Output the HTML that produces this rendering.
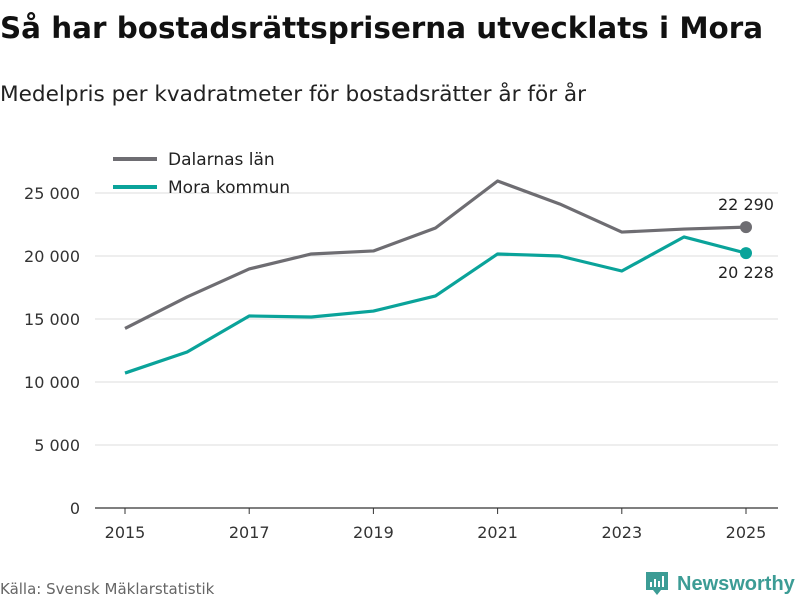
<!DOCTYPE html>
<html><head><meta charset="utf-8"><style>
body{margin:0;width:800px;height:600px;background:#fff;font-family:"DejaVu Sans","Liberation Sans",sans-serif;overflow:hidden}
</style></head><body>
<svg width="800" height="600">
<text x="0" y="38" font-size="29.4" font-weight="bold" fill="#111">Så har bostadsrättspriserna utvecklats i Mora</text>
<text x="0" y="101" font-size="21.6" fill="#222">Medelpris per kvadratmeter för bostadsrätter år för år</text>
<g id="grid"></g><g id="lines"></g>
<g>
<line x1="113" y1="159" x2="157" y2="159" stroke="#6e6d72" stroke-width="4"/>
<text x="168" y="165" font-size="17" fill="#222">Dalarnas län</text>
<line x1="113" y1="187" x2="157" y2="187" stroke="#0aa39a" stroke-width="4"/>
<text x="168" y="193" font-size="17" fill="#222">Mora kommun</text>
</g>
<text x="0" y="594" font-size="15" fill="#666">Källa: Svensk Mäklarstatistik</text>
<g>
<path d="M646 572 h22 v18 h-7 l-4 5 l-4 -5 h-7 z" fill="#3c9c95"/>
<rect x="650" y="582" width="2" height="5" fill="#fff"/><rect x="654" y="579" width="2" height="8" fill="#fff"/><rect x="658" y="581" width="2" height="6" fill="#fff"/><rect x="662" y="576" width="2" height="11" fill="#fff"/>
<text x="677" y="590" font-size="20" font-weight="bold" font-family="Liberation Sans, sans-serif" fill="#3c9c95">Newsworthy</text>
</g>
</svg>
<script>
const years=[2015,2016,2017,2018,2019,2020,2021,2022,2023,2024,2025];
const dalarna=[14250,16750,18970,20160,20400,22220,25950,24130,21900,22140,22290];
const mora=[10710,12380,15240,15160,15630,16830,20160,20000,18810,21510,20228];
const yTicks=[0,5000,10000,15000,20000,25000];
const xTicks=[2015,2017,2019,2021,2023,2025];
const NS='http://www.w3.org/2000/svg';
const x=v=>125+(v-2015)*62.1;
const y=v=>508-v*0.0126;
const fmt=v=>v.toLocaleString('en').replace(/,/g,' ');
function mk(t,a,p){const e=document.createElementNS(NS,t);for(const k in a)e.setAttribute(k,a[k]);p.appendChild(e);return e;}
const g=document.getElementById('grid'),L=document.getElementById('lines');
yTicks.forEach(v=>{
 const l=mk('line',{x1:95,x2:778,y1:y(v),y2:y(v),stroke:v?'#dcdcdc':'#333','stroke-width':v?1:1.2},g);
 
 
 const t=mk('text',{x:80,y:y(v)+6,'font-size':16,fill:'#333','text-anchor':'end'},g);t.textContent=fmt(v);
 
 
});
xTicks.forEach(v=>{
 const l=mk('line',{x1:x(v),x2:x(v),y1:508,y2:514,stroke:'#333'},g);
 
 
 const t=mk('text',{x:x(v),y:538,'font-size':16,fill:'#333','text-anchor':'middle'},g);t.textContent=v;
 
 
});
function series(d,c,name,dy){
 const p=mk('polyline',{points:d.map((v,i)=>x(years[i])+','+y(v)).join(' '),fill:'none',stroke:c,'stroke-width':3.2,'stroke-linejoin':'round'},L);
 
 
 const n=d.length-1;
 const c1=mk('circle',{cx:x(years[n]),cy:y(d[n]),r:6,fill:c},L);
 
 
 const t=mk('text',{x:x(years[n]),y:y(d[n])+dy,'font-size':16,fill:'#222','text-anchor':'middle'},L);t.textContent=fmt(d[n]);
 
 
}
series(dalarna,'#6e6d72','dalarna',-17);
series(mora,'#0aa39a','mora',25);
</script>
</body></html>
